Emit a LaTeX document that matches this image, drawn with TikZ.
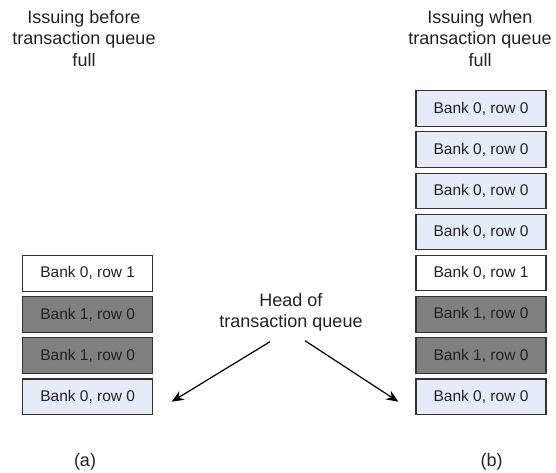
\documentclass[tikz,border=0pt]{standalone}
\usepackage{fontspec}
\setmainfont{Liberation Sans}
\usetikzlibrary{arrows.meta}
\definecolor{qblue}{HTML}{E6ECF7}
\definecolor{qgray}{HTML}{808080}
\definecolor{qedge}{HTML}{333333}
\definecolor{qtext}{HTML}{222222}
\begin{document}
\begin{tikzpicture}[x=1pt,y=-1pt,
  entry/.style={draw=qedge, line width=1.1pt, minimum width=130pt, minimum height=35.5pt,
    inner sep=0pt, font=\fontsize{15.5}{18}\selectfont, text=qtext},
  openrow/.style={entry, fill=qblue},
  missrow/.style={entry, fill=white},
  otherbank/.style={entry, fill=qgray},
  caption/.style={align=center, inner sep=0pt, anchor=north, text=qtext,
    font=\fontsize{18}{21.7}\selectfont},
  pointer/.style={line width=1.2pt, -{Stealth[length=12pt, width=10pt]}}]
\useasboundingbox (0,0) rectangle (556,472);

% column titles
\node[caption] (ta) at (84,10) {Issuing before\\transaction queue\\full};
\node[caption] (tb) at (480,10) {Issuing when\\transaction queue\\full};

% queue (a)
\node[missrow]   (a1) at (87.7,273.3) {Bank 0, row 1};
\node[otherbank] (a2) at (87.7,314.5) {Bank 1, row 0};
\node[otherbank] (a3) at (87.7,355.5) {Bank 1, row 0};
\node[openrow]   (a4) at (87.7,396.7) {Bank 0, row 0};

% queue (b)
\node[openrow]   (b1) at (481,108.4) {Bank 0, row 0};
\node[openrow]   (b2) at (481,149.6) {Bank 0, row 0};
\node[openrow]   (b3) at (481,190.8) {Bank 0, row 0};
\node[openrow]   (b4) at (481,231.9) {Bank 0, row 0};
\node[missrow]   (b5) at (481,273.1) {Bank 0, row 1};
\node[otherbank] (b6) at (481,314.3) {Bank 1, row 0};
\node[otherbank] (b7) at (481,355.5) {Bank 1, row 0};
\node[openrow]   (b8) at (481,396.7) {Bank 0, row 0};

% head pointer label and arrows
\node[caption] (head) at (291,292.8) {Head of\\transaction queue};
\coordinate (hl) at (270,341.7);
\coordinate (hr) at (305,340.7);
\coordinate (pa) at (171.7,401.7);
\coordinate (pb) at (398.3,401.7);
\draw[pointer] (hl) -- (pa);
\draw[pointer] (hr) -- (pb);

% sub-figure labels
\node[text=qtext, font=\fontsize{18}{21.7}\selectfont, inner sep=0pt] (la) at (85,461.5) {(a)};
\node[text=qtext, font=\fontsize{18}{21.7}\selectfont, inner sep=0pt] (lb) at (491.7,461.5) {(b)};
\end{tikzpicture}
\end{document}
